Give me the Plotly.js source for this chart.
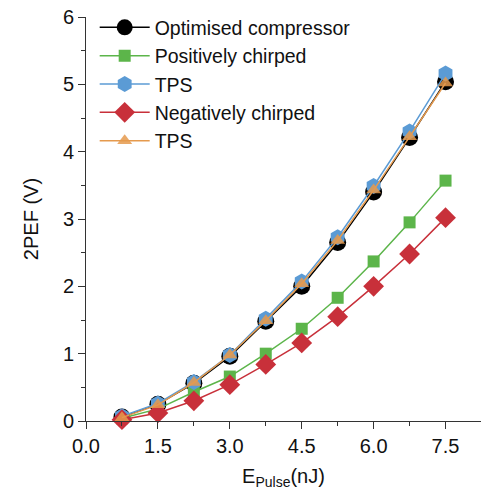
<!DOCTYPE html>
<html>
<head>
<meta charset="utf-8">
<script src="https://cdn.plot.ly/plotly-3.0.1.min.js"></script>
<style>html,body{margin:0;padding:0;background:#fff;}#chart{width:482px;height:491px;}</style>
</head>
<body>
<div id="chart"></div>
<script>
const energy = [0.75, 1.5, 2.25, 3.0, 3.75, 4.5, 5.25, 6.0, 6.75, 7.5];
const optimised = [0.06, 0.25, 0.56, 0.96, 1.48, 2.00, 2.65, 3.40, 4.21, 5.04];
const positive = [0.04, 0.18, 0.43, 0.66, 1.00, 1.37, 1.83, 2.37, 2.95, 3.57];
const tpsPositive = [0.07, 0.26, 0.58, 0.98, 1.52, 2.07, 2.73, 3.49, 4.30, 5.16];
const negative = [0.02, 0.12, 0.30, 0.54, 0.84, 1.16, 1.55, 2.00, 2.48, 3.02];
const tpsNegative = [0.05, 0.24, 0.57, 0.98, 1.49, 2.04, 2.68, 3.43, 4.22, 5.02];
const names = ["Optimised compressor", "Positively chirped", "TPS", "Negatively chirped", "TPS"];
const xTicks = [0, 1.5, 3.0, 4.5, 6.0, 7.5];
const xTickText = ["0.0", "1.5", "3.0", "4.5", "6.0", "7.5"];
const yTicks = [0, 1, 2, 3, 4, 5, 6];

function tr(y, name, color, symbol, size, opacity) {
  return {
    x: energy, y: y, name: name, type: 'scatter', mode: 'lines+markers',
    line: {color: color, width: 1.5},
    marker: {color: color, symbol: symbol, size: size, opacity: opacity || 1, line: {width: 0}},
    cliponaxis: false
  };
}
const data = [
  tr(optimised, names[0], '#000000', 'circle', 17),
  tr(positive, names[1], '#5cb54a', 'square', 12),
  tr(tpsPositive, names[2], '#5b9bd5', 'hexagon', 16),
  tr(negative, names[3], '#c8303a', 'diamond', 16),
  tr(tpsNegative, names[4], '#e59a4e', 'triangle-up', 13, 0.85)
];
const fam = 'Liberation Sans, Arial, sans-serif';
const axisFont = {family: fam, size: 20, color: '#111'};
const layout = {
  width: 482, height: 491,
  margin: {l: 86, r: 1, t: 17, b: 70},
  paper_bgcolor: '#fff', plot_bgcolor: '#fff',
  font: axisFont,
  showlegend: true,
  legend: {x: 0.022, y: 1.022, xanchor: 'left', yanchor: 'top', bgcolor: 'rgba(0,0,0,0)',
           font: {family: fam, size: 19.5, color: '#111'},
           tracegroupgap: 0, itemwidth: 50},
  xaxis: {
    range: [0, 8.24], tickvals: xTicks, ticktext: xTickText,
    showgrid: false, zeroline: false, showline: true, linecolor: '#333', linewidth: 1,
    ticks: 'outside', ticklen: 7, tickcolor: '#333', tickfont: axisFont,
    minor: {dtick: 0.75, tick0: 0, ticks: 'outside', ticklen: 4, tickcolor: '#333'},
    title: {text: 'E<sub>Pulse</sub>(nJ)', font: {family: fam, size: 20, color: '#111'}, standoff: 12}
  },
  yaxis: {
    range: [0, 6], tickvals: yTicks,
    showgrid: false, zeroline: false, showline: true, linecolor: '#333', linewidth: 1,
    ticks: 'outside', ticklen: 7, tickcolor: '#333', tickfont: axisFont,
    minor: {dtick: 0.5, tick0: 0, ticks: 'outside', ticklen: 4, tickcolor: '#333'},
    title: {text: '2PEF (V)', font: {family: fam, size: 20, color: '#111'}, standoff: 18}
  }
};
Plotly.newPlot('chart', data, layout, {displayModeBar: false, staticPlot: true});
</script>
</body>
</html>
